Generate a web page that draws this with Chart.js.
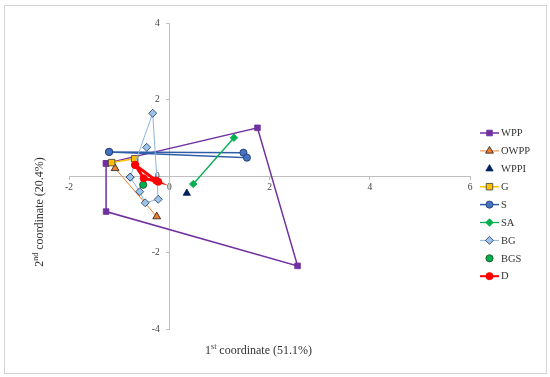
<!DOCTYPE html>
<html>
<head>
<meta charset="utf-8">
<title>Biplot</title>
<script src="https://cdn.jsdelivr.net/npm/chart.js@4.4.1/dist/chart.umd.min.js"></script>
<style>
  html, body { margin: 0; padding: 0; background: #fff; }
  #wrap { position: relative; width: 550px; height: 377px; }
  #wrap canvas { position: absolute; left: 0; top: 0; }
  #frame { position: absolute; left: 4px; top: 5px; width: 541px; height: 367px;
           border: 1px solid #d4d4d4; pointer-events: none; }
</style>
</head>
<body>
<div id="wrap">
  <canvas id="biplot" width="550" height="377"></canvas>
  <div id="frame"></div>
</div>
<script>
"use strict";

/* ── Data ────────────────────────────────────────────────────────────── */
const seriesNames = ["WPP", "OWPP", "WPPI", "G", "S", "SA", "BG", "BGS", "D"];

const wpp  = [[-1.26, 0.33], [1.76, 1.26], [2.56, -2.35], [-1.26, -0.93], [-1.26, 0.33]];
const owpp = [[-1.08, 0.20], [-0.25, -1.06]];
const wppi = [[0.35, -0.45]];
const g    = [[-1.15, 0.35], [-0.69, 0.45]];
const s    = [[-1.20, 0.63], [1.48, 0.61], [1.55, 0.48], [-1.20, 0.63]];
const sa   = [[0.48, -0.21], [1.29, 1.00]];
// first point stands alone, null breaks the line
const bg   = [[-0.45, 0.75], [null, null], [-0.78, -0.03], [-0.33, 1.64],
              [-0.22, -0.61], [-0.48, -0.70], [-0.59, -0.41], [-0.78, -0.03]];
const bgs  = [[-0.52, -0.23]];
const d    = [[-0.68, 0.29], [-0.51, -0.06], [-0.22, -0.15], [-0.26, -0.12], [-0.68, 0.29]];

const xTicks = [-2, 0, 2, 4, 6];
const yTicks = [-4, -2, 0, 2, 4];

const xTitle = ["1", "st", " coordinate (51.1%)"];
const yTitle = ["2", "nd", " coordinate (20.4%)"];

/* ── Styles ──────────────────────────────────────────────────────────── */
const FONT = "'Liberation Serif', 'Times New Roman', serif";
const AXIS = "#bfbfbf";
const INK = "#333333";

const styles = [
  { line: "#7030a0", lw: 1.5, fill: "#7030a0", edge: "#7030a0", shape: "rect",     r: 4 },
  { line: "#ed7d31", lw: 1,   fill: "#ed7d31", edge: "#1a1a1a", shape: "triangle", r: 4.5 },
  { line: null,      lw: 0,   fill: "#002060", edge: "#002060", shape: "triangle", r: 4.2 },
  { line: "#ffc000", lw: 1.5, fill: "#ffc000", edge: "#3a3a3a", shape: "rect",     r: 4.6 },
  { line: "#2f5ea8", lw: 1.5, fill: "#4472c4", edge: "#1f3864", shape: "circle",   r: 3.6 },
  { line: "#00b050", lw: 1.3, fill: "#00b050", edge: "#00b050", shape: "rectRot",  r: 3.8 },
  { line: "#8db4e2", lw: 1,   fill: "#9dc3e6", edge: "#1f3864", shape: "rectRot",  r: 4 },
  { line: null,      lw: 0,   fill: "#00b050", edge: "#1a4d1a", shape: "circle",   r: 3.6 },
  { line: "#ff0000", lw: 3,   fill: "#ff0000", edge: "#ff0000", shape: "circle",   r: 3.6 },
];

const seriesData = [wpp, owpp, wppi, g, s, sa, bg, bgs, d];

function toPoints(arr) {
  return arr.map(([x, y]) => ({ x, y }));
}

/* ── Legend + axis titles, drawn after the chart ─────────────────────── */
function drawMarker(ctx, shape, x, y, r) {
  ctx.beginPath();
  if (shape === "rect") {
    const h = r * Math.SQRT1_2;
    ctx.rect(x - h, y - h, 2 * h, 2 * h);
  } else if (shape === "rectRot") {
    ctx.moveTo(x, y - r); ctx.lineTo(x + r, y); ctx.lineTo(x, y + r); ctx.lineTo(x - r, y);
    ctx.closePath();
  } else if (shape === "triangle") {
    ctx.moveTo(x, y - r);
    ctx.lineTo(x + r * 0.866, y + r * 0.5);
    ctx.lineTo(x - r * 0.866, y + r * 0.5);
    ctx.closePath();
  } else {
    ctx.arc(x, y, r, 0, Math.PI * 2);
  }
  ctx.fill();
  ctx.stroke();
}

function drawSupText(ctx, parts, cx, cy, size) {
  const big = `${size}px ${FONT}`;
  const small = `${Math.round(size * 0.68)}px ${FONT}`;
  ctx.font = big;   const w0 = ctx.measureText(parts[0]).width;
  ctx.font = small; const w1 = ctx.measureText(parts[1]).width;
  ctx.font = big;   const w2 = ctx.measureText(parts[2]).width;
  let x = cx - (w0 + w1 + w2) / 2;
  ctx.textAlign = "left";
  ctx.textBaseline = "alphabetic";
  ctx.font = big;   ctx.fillText(parts[0], x, cy); x += w0;
  ctx.font = small; ctx.fillText(parts[1], x, cy - size * 0.38); x += w1;
  ctx.font = big;   ctx.fillText(parts[2], x, cy);
}

const extrasPlugin = {
  id: "extras",
  afterDraw(chart) {
    const ctx = chart.ctx;
    ctx.save();

    // legend
    seriesNames.forEach((name, i) => {
      const st = styles[i];
      const y = 133 + i * 17.9;
      if (st.line) {
        ctx.strokeStyle = st.line;
        ctx.lineWidth = Math.min(st.lw, 2);
        ctx.beginPath();
        ctx.moveTo(480, y);
        ctx.lineTo(499, y);
        ctx.stroke();
      }
      ctx.fillStyle = st.fill;
      ctx.strokeStyle = st.edge;
      ctx.lineWidth = 0.8;
      drawMarker(ctx, st.shape, 489.5, y, st.r);
      ctx.fillStyle = INK;
      ctx.font = `10.5px ${FONT}`;
      ctx.textAlign = "left";
      ctx.textBaseline = "middle";
      ctx.fillText(name, 501, y + 0.5);
    });

    // axis titles
    ctx.fillStyle = INK;
    drawSupText(ctx, xTitle, 258.5, 354, 12);
    ctx.translate(43, 212);
    ctx.rotate(-Math.PI / 2);
    drawSupText(ctx, yTitle, 0, 0, 12);

    ctx.restore();
  },
};

/* ── Chart ───────────────────────────────────────────────────────────── */
function initBiplot() {
  const canvas = document.getElementById("biplot");
  const ctx = canvas.getContext("2d");

  const datasets = seriesNames.map((name, i) => {
    const st = styles[i];
    return {
      label: name,
      data: toPoints(seriesData[i]),
      showLine: !!st.line,
      borderColor: st.line || st.fill,
      borderWidth: st.lw,
      spanGaps: false,
      pointStyle: st.shape,
      pointRadius: st.r,
      pointHoverRadius: st.r,
      pointBackgroundColor: st.fill,
      pointBorderColor: st.edge,
      pointBorderWidth: 0.8,
      order: seriesNames.length - i,
    };
  });

  const tickFont = { family: FONT, size: 9.5 };

  new Chart(ctx, {
    type: "scatter",
    data: { datasets },
    plugins: [extrasPlugin],
    options: {
      responsive: false,
      animation: false,
      layout: { padding: { left: 69, right: 80, top: 23, bottom: 48 } },
      plugins: {
        legend: { display: false },
        tooltip: { enabled: false },
      },
      scales: {
        x: {
          type: "linear",
          min: xTicks[0],
          max: xTicks[xTicks.length - 1],
          position: { y: 0 },
          afterFit: (sc) => { sc.height = 0; },
          afterBuildTicks: (sc) => { sc.ticks = xTicks.map((v) => ({ value: v })); },
          ticks: { font: tickFont, color: "#404040", padding: 3, maxRotation: 0 },
          grid: { drawOnChartArea: false, drawTicks: true, tickLength: 3, color: AXIS },
          border: { color: AXIS, width: 1 },
        },
        y: {
          type: "linear",
          min: yTicks[0],
          max: yTicks[yTicks.length - 1],
          position: { x: 0 },
          afterFit: (sc) => { sc.width = 0; },
          afterBuildTicks: (sc) => { sc.ticks = yTicks.map((v) => ({ value: v })); },
          // centred axis puts labels flush on the line; en spaces push them left
          ticks: {
            font: tickFont, color: "#404040",
            callback: (v) => `${v}\u2002\u2002`,
          },
          grid: { drawOnChartArea: false, drawTicks: true, tickLength: 3, color: AXIS },
          border: { color: AXIS, width: 1 },
        },
      },
    },
  });
}

document.addEventListener("DOMContentLoaded", initBiplot);
</script>
</body>
</html>
